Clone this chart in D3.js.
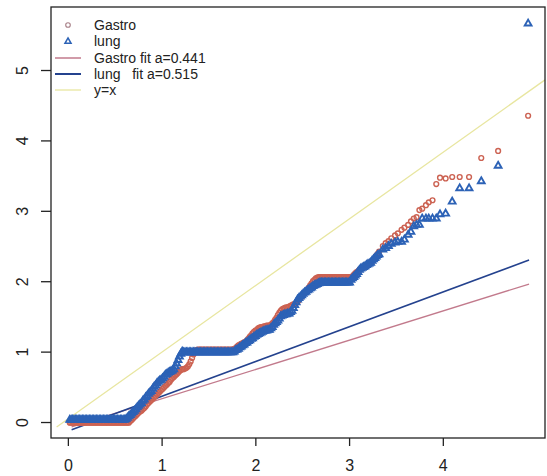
<!DOCTYPE html>
<html>
<head>
<meta charset="utf-8">
<script src="https://cdn.jsdelivr.net/npm/d3@7"></script>
<style>
  body { margin: 0; background: #fff; }
  svg { display: block; font-family: "Liberation Sans", Arial, sans-serif; }
</style>
</head>
<body>
<div id="chart"></div>
<script>
// quantiles on the x axis, shared by both groups
const qX = [
  0.02,0.035,0.05,0.065,0.08,0.095,0.11,0.125,0.14,0.155,
  0.17,0.185,0.2,0.215,0.23,0.245,0.26,0.275,0.29,0.305,
  0.32,0.335,0.35,0.365,0.38,0.395,0.41,0.425,0.44,0.455,
  0.47,0.485,0.5,0.515,0.53,0.545,0.56,0.575,0.59,0.605,
  0.62,0.635,0.65,0.665,0.68,0.695,0.71,0.725,0.74,0.755,
  0.77,0.785,0.8,0.815,0.83,0.845,0.86,0.875,0.89,0.905,
  0.92,0.935,0.95,0.965,0.98,0.995,1.01,1.025,1.04,1.055,
  1.07,1.085,1.1,1.115,1.13,1.145,1.16,1.175,1.19,1.205,
  1.22,1.235,1.25,1.265,1.28,1.295,1.31,1.325,1.34,1.355,
  1.37,1.385,1.4,1.415,1.43,1.445,1.46,1.475,1.49,1.505,
  1.52,1.535,1.55,1.565,1.58,1.595,1.61,1.625,1.64,1.655,
  1.67,1.685,1.7,1.715,1.73,1.745,1.76,1.775,1.79,1.805,
  1.82,1.835,1.85,1.865,1.88,1.895,1.91,1.925,1.94,1.955,
  1.97,1.985,2.0,2.015,2.03,2.045,2.06,2.075,2.09,2.105,
  2.12,2.135,2.15,2.165,2.18,2.195,2.21,2.225,2.24,2.255,
  2.27,2.285,2.3,2.315,2.33,2.345,2.36,2.375,2.39,2.405,
  2.42,2.435,2.45,2.465,2.48,2.495,2.51,2.525,2.54,2.555,
  2.57,2.585,2.6,2.615,2.63,2.645,2.66,2.675,2.69,2.705,
  2.72,2.735,2.75,2.765,2.78,2.795,2.81,2.825,2.84,2.855,
  2.87,2.885,2.9,2.915,2.93,2.945,2.96,2.975,2.99,3.005,
  3.02,3.035,3.05,3.065,3.08,3.095,3.11,3.125,3.14,3.155,
  3.17,3.185,3.2,3.215,3.23,3.245,3.26,3.275,3.29,3.305,
  3.32,
  3.36,3.39,3.42,3.45,3.49,3.52,3.56,3.59,3.63,3.66,3.69,3.72,3.75,
  3.78,3.82,3.85,3.89,3.93,3.97,4.03,4.10,4.18,4.28,4.41,4.59,4.91
];

const gastroY = [
  -0.01,-0.01,-0.01,-0.01,-0.01,-0.01,-0.01,-0.01,-0.01,-0.01,
  -0.01,-0.01,-0.01,-0.01,-0.01,-0.01,-0.01,-0.01,-0.01,-0.01,
  -0.01,-0.01,-0.01,-0.01,-0.01,-0.01,-0.01,-0.01,-0.01,-0.01,
  -0.01,-0.01,-0.01,-0.01,-0.01,-0.01,-0.01,-0.01,-0.01,-0.01,
  -0.01,-0.01,-0.01,0.01,0.03,0.05,0.07,0.09,0.11,0.13,
  0.15,0.16,0.18,0.20,0.22,0.25,0.27,0.29,0.31,0.33,
  0.35,0.37,0.39,0.41,0.43,0.45,0.47,0.49,0.51,0.53,
  0.55,0.57,0.60,0.62,0.64,0.66,0.68,0.70,0.72,0.74,
  0.75,0.75,0.76,0.77,0.79,0.82,0.86,0.91,0.96,0.99,
  1.02,1.03,1.03,1.03,1.03,1.03,1.03,1.03,1.03,1.03,
  1.03,1.03,1.03,1.03,1.03,1.03,1.03,1.03,1.03,1.03,
  1.03,1.03,1.03,1.03,1.03,1.03,1.03,1.04,1.05,1.07,
  1.09,1.10,1.11,1.12,1.13,1.14,1.16,1.18,1.21,1.23,
  1.26,1.28,1.30,1.31,1.33,1.34,1.35,1.35,1.36,1.36,
  1.37,1.37,1.37,1.38,1.40,1.42,1.45,1.48,1.52,1.55,
  1.58,1.60,1.61,1.62,1.63,1.63,1.64,1.65,1.66,1.67,
  1.68,1.69,1.71,1.73,1.76,1.78,1.81,1.83,1.86,1.88,
  1.91,1.94,1.97,2.00,2.02,2.04,2.05,2.06,2.06,2.06,
  2.06,2.06,2.06,2.06,2.06,2.06,2.06,2.06,2.06,2.06,
  2.06,2.06,2.06,2.06,2.06,2.06,2.06,2.06,2.06,2.06,
  2.06,2.07,2.09,2.11,2.13,2.14,2.16,2.17,2.19,2.20,
  2.21,2.22,2.24,2.25,2.27,2.28,2.30,2.33,2.36,2.39,
  2.42,
  2.50,2.54,2.57,2.61,2.65,2.68,2.73,2.76,2.80,2.85,2.89,2.91,3.01,
  3.03,3.08,3.12,3.15,3.38,3.47,3.46,3.48,3.48,3.48,3.75,3.85,4.35
];

const lungY = [
  0.03,0.03,0.03,0.03,0.03,0.03,0.03,0.03,0.03,0.03,
  0.03,0.03,0.03,0.03,0.03,0.03,0.03,0.03,0.03,0.03,
  0.03,0.03,0.03,0.03,0.03,0.03,0.03,0.03,0.03,0.03,
  0.03,0.03,0.03,0.03,0.03,0.03,0.03,0.03,0.03,0.03,
  0.04,0.06,0.08,0.10,0.12,0.14,0.16,0.18,0.21,0.23,
  0.25,0.27,0.30,0.32,0.35,0.37,0.40,0.42,0.44,0.47,
  0.50,0.52,0.55,0.57,0.59,0.60,0.62,0.64,0.67,0.68,
  0.70,0.71,0.72,0.73,0.75,0.79,0.83,0.88,0.93,0.97,
  1.00,0.99,0.99,0.99,0.99,0.99,0.99,0.99,0.99,0.99,
  0.99,0.99,0.99,0.99,0.99,0.99,0.99,0.99,0.99,0.99,
  0.99,0.99,0.99,0.99,0.99,0.99,0.99,0.99,0.99,0.99,
  0.99,0.99,0.99,0.99,0.99,0.99,0.99,1.00,1.02,1.03,
  1.04,1.06,1.07,1.09,1.10,1.12,1.13,1.15,1.16,1.18,
  1.19,1.21,1.22,1.24,1.25,1.26,1.27,1.28,1.29,1.30,
  1.30,1.31,1.31,1.33,1.35,1.38,1.40,1.42,1.44,1.47,
  1.50,1.51,1.52,1.53,1.53,1.54,1.54,1.56,1.58,1.62,
  1.66,1.70,1.74,1.76,1.78,1.80,1.82,1.84,1.85,1.87,
  1.88,1.90,1.91,1.93,1.94,1.95,1.96,1.97,1.98,1.98,
  1.98,1.98,1.98,1.98,1.98,1.98,1.98,1.98,1.98,1.98,
  1.98,1.98,1.98,1.98,1.98,1.98,1.98,1.98,1.98,1.98,
  2.02,2.04,2.06,2.08,2.10,2.13,2.16,2.18,2.19,2.20,
  2.21,2.23,2.24,2.25,2.26,2.29,2.31,2.33,2.35,2.37,
  2.38,
  2.45,2.47,2.50,2.53,2.55,2.56,2.56,2.59,2.66,2.70,2.78,2.80,2.80,
  2.89,2.89,2.89,2.89,2.89,2.95,2.96,3.13,3.32,3.32,3.42,3.64,5.66
];

// fitted lines and reference line, end points as they appear on the plot
const gastroFit = [[0.04, -0.07], [4.92, 1.96]];
const lungFit = [[0.04, -0.11], [4.92, 2.30]];
const refLine = [[-0.12, -0.07], [5.09, 4.86]];

const xTicks = [0, 1, 2, 3, 4];
const yTicks = [0, 1, 2, 3, 4, 5];

const legendLabels = ["Gastro", "lung", "Gastro fit a=0.441", "lung   fit a=0.515", "y=x"];

const width = 547, height = 476;
const box = { left: 51, right: 545, top: 7, bottom: 438 };

const gastroCol = "#cc6252", lungCol = "#2c62b6";
const gastroFitCol = "#c27a8c", lungFitCol = "#24428e", refCol = "#e8e6a0";

const x = d3.scaleLinear().domain([-0.18, 5.09]).range([box.left, box.right]);
const y = d3.scaleLinear().domain([-0.227, 5.895]).range([box.bottom, box.top]);

const svg = d3.select("#chart").append("svg")
    .attr("width", width)
    .attr("height", height);

const line = d3.line().x(d => x(d[0])).y(d => y(d[1]));

// axes, R style: ticks outside the box, y labels turned
const xAxis = svg.append("g")
    .attr("transform", `translate(0,${box.bottom})`)
    .call(d3.axisBottom(x).tickValues(xTicks).tickSize(8).tickPadding(14).tickFormat(d3.format("d")));
xAxis.select(".domain").remove();

const yAxis = svg.append("g")
    .attr("transform", `translate(${box.left},0)`)
    .call(d3.axisLeft(y).tickValues(yTicks).tickSize(10).tickFormat(d3.format("d")));
yAxis.select(".domain").remove();
yAxis.selectAll("text")
    .attr("x", null)
    .attr("text-anchor", "middle")
    .attr("transform", "translate(-29,0) rotate(-90)")
    .attr("dy", "0.35em");

svg.selectAll(".tick text").style("font-size", "16px").style("fill", "#222");
svg.selectAll(".tick line").style("stroke", "#222").style("stroke-width", 1.3);

// lines
svg.append("path").attr("d", line(refLine)).attr("fill", "none")
    .attr("stroke", refCol).attr("stroke-width", 1.3);
svg.append("path").attr("d", line(gastroFit)).attr("fill", "none")
    .attr("stroke", gastroFitCol).attr("stroke-width", 1.3);
svg.append("path").attr("d", line(lungFit)).attr("fill", "none")
    .attr("stroke", lungFitCol).attr("stroke-width", 1.6);

// points: gastro first, lung on top
const gastro = qX.map((v, i) => [v, gastroY[i]]);
const lung = qX.map((v, i) => [v, lungY[i]]);

svg.append("g").selectAll("circle")
    .data(gastro)
    .join("circle")
    .attr("cx", d => x(d[0]))
    .attr("cy", d => y(d[1]))
    .attr("r", 2.4)
    .attr("fill", "none")
    .attr("stroke", gastroCol)
    .attr("stroke-width", 1.4);

const tri = d3.symbol().type(d3.symbolTriangle).size(20);
svg.append("g").selectAll("path")
    .data(lung)
    .join("path")
    .attr("d", tri)
    .attr("transform", d => `translate(${x(d[0])},${y(d[1])})`)
    .attr("fill", "none")
    .attr("stroke", lungCol)
    .attr("stroke-width", 1.9);

// legend
const legY = [25, 41.5, 58, 74, 90];
const leg = svg.append("g");
leg.append("circle").attr("cx", 68).attr("cy", legY[0]).attr("r", 2.3)
    .attr("fill", "none").attr("stroke", "#a88088").attr("stroke-width", 1.1);
leg.append("path").attr("d", d3.symbol().type(d3.symbolTriangle).size(16))
    .attr("transform", `translate(68,${legY[1]})`)
    .attr("fill", "none").attr("stroke", lungCol).attr("stroke-width", 1.5);
[[gastroFitCol, 1.5], [lungFitCol, 2], [refCol, 1.3]].forEach(([c, w], i) => {
    leg.append("line")
        .attr("x1", 55).attr("x2", 81)
        .attr("y1", legY[i + 2]).attr("y2", legY[i + 2])
        .attr("stroke", c).attr("stroke-width", w);
});
leg.selectAll("text")
    .data(legendLabels)
    .join("text")
    .attr("x", 94)
    .attr("y", (d, i) => legY[i])
    .attr("dy", "0.35em")
    .style("font-size", "14px")
    .style("fill", "#222")
    .style("white-space", "pre")
    .text(d => d);

// frame
svg.append("rect")
    .attr("x", box.left).attr("y", box.top)
    .attr("width", box.right - box.left).attr("height", box.bottom - box.top)
    .attr("fill", "none").attr("stroke", "#222").attr("stroke-width", 1.3);
</script>
</body>
</html>
